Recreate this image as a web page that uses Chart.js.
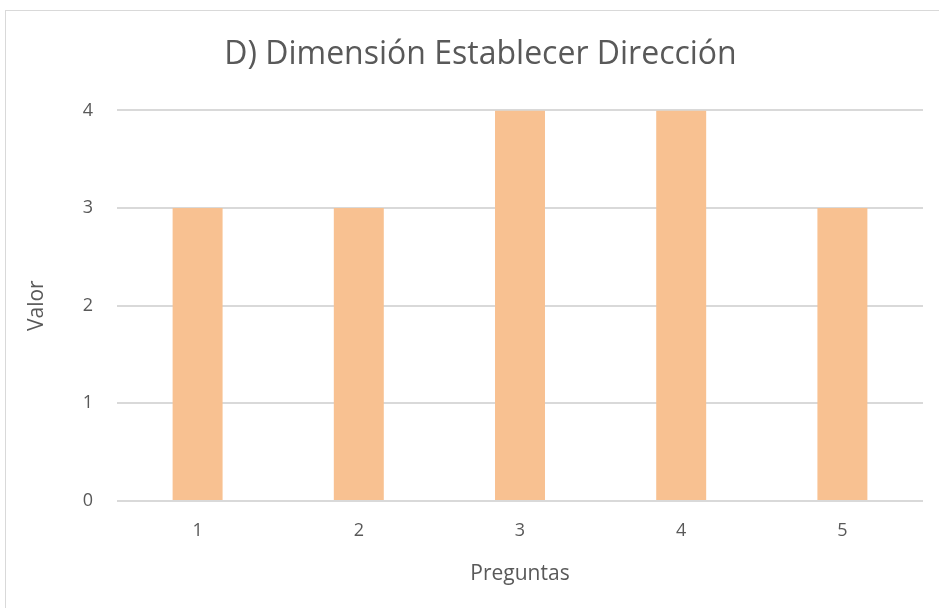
<!DOCTYPE html>
<html>
<head>
<meta charset="utf-8">
<script src="https://cdn.jsdelivr.net/npm/chart.js@4"></script>
<style>
  body { margin: 0; background: #fff; }
  #box { position: absolute; left: 5px; top: 10px; width: 934px; height: 598px; border: 1px solid #d9d9d9; border-right: none; border-bottom: none; box-sizing: border-box; }
  #myChart { display: block; }
</style>
</head>
<body>
<div id="box"><canvas id="myChart" width="933" height="597"></canvas></div>
<script>
const categories = ["1", "2", "3", "4", "5"];
const values = [3, 3, 4, 4, 3];
const yTicks = [0, 1, 2, 3, 4];

const fontFamily = "'Open Sans', sans-serif";
const textColor = '#595959';

// left padding centres the title like the original; the y title is pulled back out with a negative offset
const config = {
    type: 'bar',
    data: {
        labels: categories,
        datasets: [{
            data: values,
            backgroundColor: 'rgb(248, 193, 145)',
            borderWidth: 0,
            barPercentage: 1,
            categoryPercentage: 0.31
        }]
    },
    options: {
        responsive: false,
        animation: false,
        layout: { padding: { left: 32, right: 16, top: 0, bottom: 0 } },
        scales: {
            x: {
                grid: { display: false, drawTicks: false },
                border: { display: false },
                ticks: { color: textColor, font: { family: fontFamily, size: 18 }, padding: 19 },
                title: {
                    display: true,
                    text: 'Preguntas',
                    color: textColor,
                    font: { family: fontFamily, size: 21 },
                    padding: { top: 12, bottom: 21 }
                },
                afterFit: function (scale) { scale.height = 107; }
            },
            y: {
                min: 0,
                max: 4,
                afterBuildTicks: function (scale) {
                    scale.ticks = yTicks.map(v => ({ value: v }));
                },
                grid: { color: '#d9d9d9', lineWidth: 2, drawTicks: false },
                border: { display: false },
                ticks: { color: textColor, font: { family: fontFamily, size: 18 }, padding: 24 },
                title: {
                    display: true,
                    text: 'Valor',
                    color: textColor,
                    font: { family: fontFamily, size: 21 },
                    padding: { top: -14, bottom: 0 }
                },
                afterFit: function (scale) { scale.width = 79; }
            }
        },
        plugins: {
            legend: { display: false },
            tooltip: { enabled: false },
            title: {
                display: true,
                text: 'D) Dimensión Establecer Dirección',
                color: textColor,
                font: { family: fontFamily, size: 32, weight: 'normal' },
                padding: { top: 25, bottom: 36 }
            }
        }
    }
};

new Chart(document.getElementById('myChart'), config);
</script>
</body>
</html>
